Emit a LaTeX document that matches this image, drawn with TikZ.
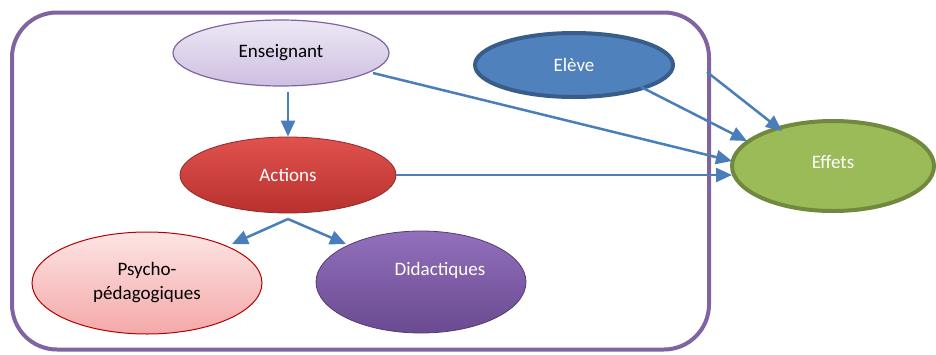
\documentclass[tikz,border=0pt]{standalone}
\usepackage{fontspec}
\setmainfont{Carlito}
\usetikzlibrary{shapes.geometric,arrows.meta}
\definecolor{boxpurple}{HTML}{8064A2}
\definecolor{arrowblue}{HTML}{4A7EBB}
\definecolor{elevefill}{HTML}{4F81BD}
\definecolor{eleveline}{HTML}{385D8A}
\definecolor{effetfill}{HTML}{9BBB59}
\definecolor{effetline}{HTML}{71893F}
\definecolor{enstop}{HTML}{EEE8F5}
\definecolor{ensbot}{HTML}{CDBFE0}
\definecolor{acttop}{HTML}{E0524E}
\definecolor{actbot}{HTML}{B8312E}
\definecolor{psytop}{HTML}{FDE4E4}
\definecolor{psybot}{HTML}{F4A8A8}
\definecolor{didtop}{HTML}{9270BC}
\definecolor{didbot}{HTML}{6A4A90}
\tikzset{
  ell/.style={ellipse, inner sep=0pt, align=center, font=\fontsize{19}{24}\selectfont},
  conn/.style={draw=arrowblue, line width=2.5pt, -{Triangle[length=16pt,width=14pt]}},
}
\begin{document}
\begin{tikzpicture}[x=1pt,y=-1pt]
\useasboundingbox (0,0) rectangle (936,354);
% outer box
\node[draw=boxpurple, line width=4pt, rounded corners=45pt, minimum width=697pt, minimum height=337pt, inner sep=0pt] (box) at (360.5,181) {};
% nodes
\node[ell, draw=boxpurple, line width=1.2pt, top color=enstop, bottom color=ensbot, minimum width=216pt, minimum height=66pt] (ens) at (281,53) {Enseignant};
\node[ell, draw=eleveline, line width=4pt, fill=elevefill, text=white, minimum width=198pt, minimum height=64pt] (eleve) at (574,65) {Elève};
\node[ell, draw=effetline, line width=4pt, fill=effetfill, text=white, minimum width=202pt, minimum height=90pt] (eff) at (833,166) {\raisebox{8pt}{Effets}};
\node[ell, draw=actbot!80!black, line width=0.8pt, top color=acttop, bottom color=actbot, text=white, minimum width=216pt, minimum height=76pt] (act) at (288,175) {Actions};
\node[ell, draw=red!70!black, line width=1pt, top color=psytop, bottom color=psybot, minimum width=230pt, minimum height=102pt] (psy) at (147,283) {Psycho-\\pédagogiques};
\node[ell, draw=didbot!80!black, line width=0.8pt, top color=didtop, bottom color=didbot, minimum width=210pt, minimum height=102pt] (did) at (421,282) {};
\node[font=\fontsize{19}{24}\selectfont, text=white] (didtext) at (440,270) {Didactiques};
% connectors
\coordinate (split) at (288,219);
\coordinate (bx) at (707,72);
\draw[conn] (ens.south -| act.north) ++(0,5) -- (act.north);
\draw[conn] (373,73) -- (732,161);
\draw[conn] (act.east) -- (732,175);
\draw[conn] (split) -- (232,244);
\draw[conn] (split) -- (346,244);
\draw[conn] (641,87) -- (747,141);
\draw[conn] (bx) -- (782,131);
\end{tikzpicture}
\end{document}
